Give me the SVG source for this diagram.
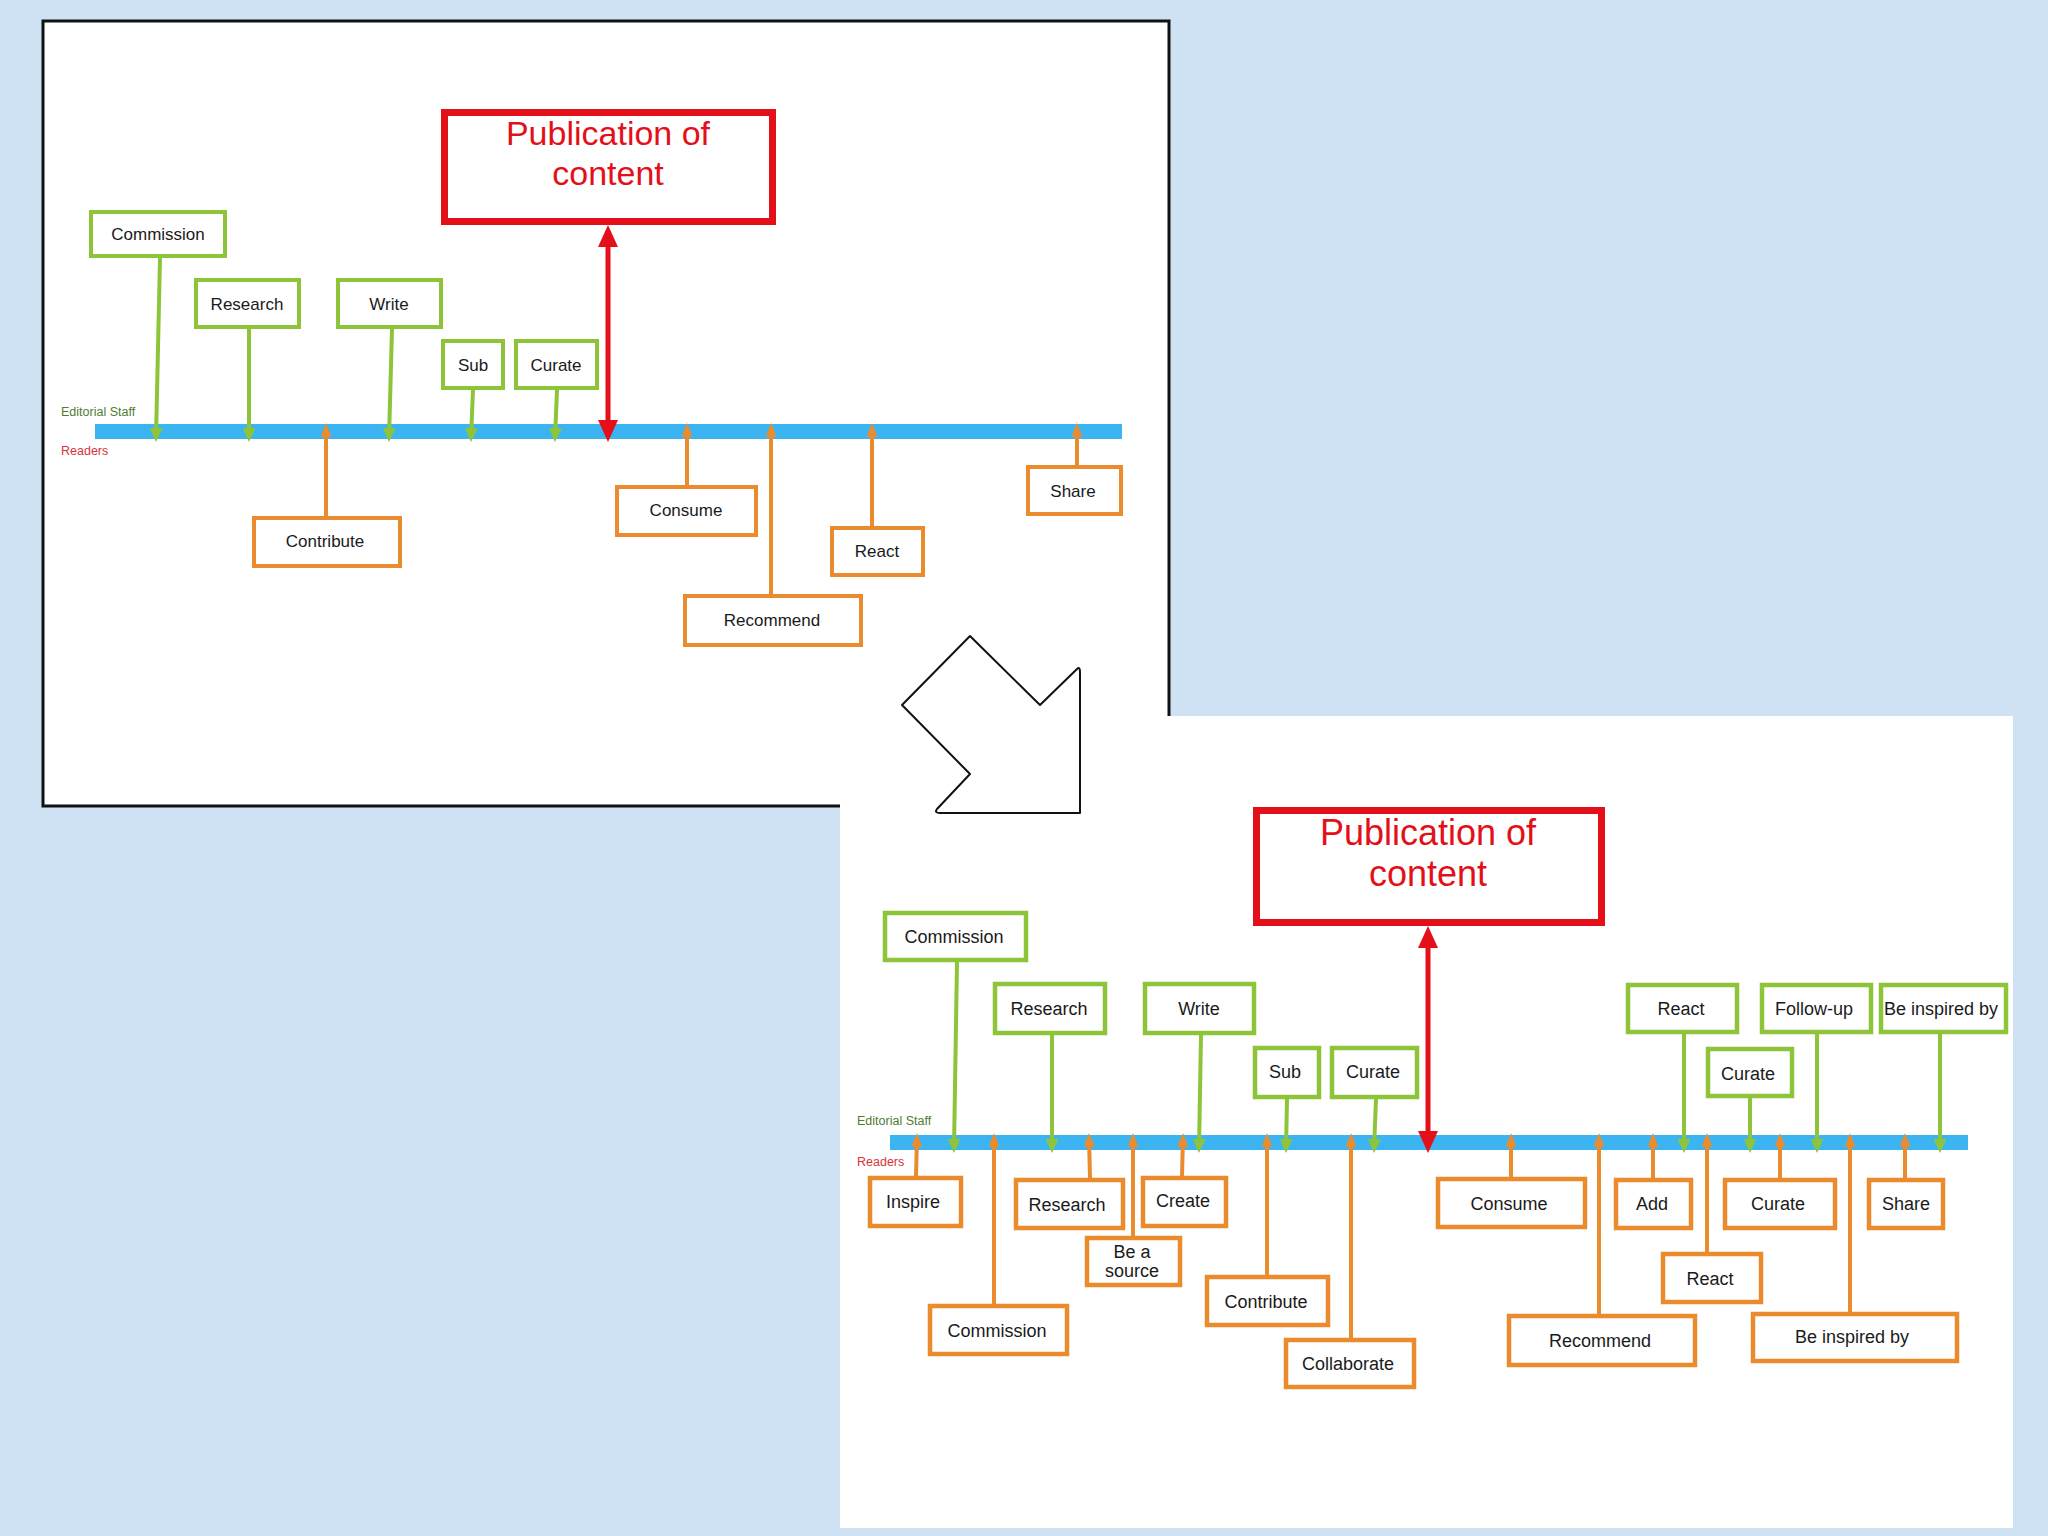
<svg xmlns="http://www.w3.org/2000/svg" width="2048" height="1536" viewBox="0 0 2048 1536">
<style>
.lbl{font-family:"Liberation Sans",Arial,sans-serif;fill:#1a1a1a;text-anchor:middle}
.t17{font-size:17px}
.t18{font-size:18px}
.gbox{fill:#fff;stroke:#8dc43a}
.obox{fill:#fff;stroke:#ea8b2d}
.pbox{fill:#fff;stroke:#e3101a;stroke-width:7}
.ptxt{font-family:"Liberation Sans",Arial,sans-serif;fill:#e3101a;text-anchor:middle}
.bar{fill:#3db4f2}
.gl{stroke:#8dc43a;stroke-width:4;fill:none;marker-end:url(#ag)}
.ol{stroke:#ea8b2d;stroke-width:4;fill:none;marker-end:url(#ao)}
.rl{stroke:#e3101a;stroke-width:5;fill:none;marker-end:url(#ar);marker-start:url(#ar)}
.ed{font-family:"Liberation Sans",Arial,sans-serif;font-size:12.5px;fill:#4e7d32}
.rd{font-family:"Liberation Sans",Arial,sans-serif;font-size:12.5px;fill:#d8323c}
</style>
<defs>
<marker id="ag" markerUnits="userSpaceOnUse" markerWidth="14" markerHeight="13" refX="10" refY="6.5" orient="auto"><path d="M0,0 L14,6.5 L0,13 z" fill="#8dc43a"/></marker>
<marker id="ao" markerUnits="userSpaceOnUse" markerWidth="14" markerHeight="11" refX="10" refY="5.5" orient="auto"><path d="M0,0 L14,5.5 L0,11 z" fill="#ea8b2d"/></marker>
<marker id="ar" markerUnits="userSpaceOnUse" markerWidth="22" markerHeight="20" refX="16" refY="10" orient="auto-start-reverse"><path d="M0,0 L22,10 L0,20 z" fill="#e3101a"/></marker>
</defs>
<rect x="0" y="0" width="2048" height="1536" fill="#cfe2f3"/>

<!-- Top panel -->
<g id="panel-top">
<rect x="43" y="21" width="1126" height="785" fill="#fff" stroke="#111" stroke-width="3"/>
<rect class="bar" x="95" y="424" width="1027" height="15"/>
<text class="ed" x="61" y="416">Editorial Staff</text>
<text class="rd" x="61" y="455">Readers</text>
</g>
<g id="top-connectors">
<path class="gl" d="M160,258 L156,438"/>
<path class="gl" d="M249,329 L249,438"/>
<path class="gl" d="M392,329 L389,438"/>
<path class="gl" d="M473,390 L471,438"/>
<path class="gl" d="M557,390 L555,438"/>
<path class="rl" d="M608,231 L608,436"/>
<path class="ol" d="M326,516 L326,427"/>
<path class="ol" d="M687,485 L687,427"/>
<path class="ol" d="M771,594 L771,427"/>
<path class="ol" d="M872,526 L872,427"/>
<path class="ol" d="M1077,465 L1077,427"/>
</g>
<g id="t-pub"><rect class="pbox" x="444.5" y="112.5" width="328" height="109"/><text class="ptxt" font-size="34" x="608" y="145">Publication of</text><text class="ptxt" font-size="34" x="608" y="185">content</text></g>
<g id="t-commission"><rect class="gbox" stroke-width="4" x="91" y="212" width="134" height="44"/><text class="lbl t17" x="158" y="240">Commission</text></g>
<g id="t-research"><rect class="gbox" stroke-width="4" x="196" y="280" width="103" height="47"/><text class="lbl t17" x="247" y="310">Research</text></g>
<g id="t-write"><rect class="gbox" stroke-width="4" x="338" y="280" width="103" height="47"/><text class="lbl t17" x="389" y="310">Write</text></g>
<g id="t-sub"><rect class="gbox" stroke-width="4" x="443" y="341" width="60" height="47"/><text class="lbl t17" x="473" y="371">Sub</text></g>
<g id="t-curate"><rect class="gbox" stroke-width="4" x="516" y="341" width="81" height="47"/><text class="lbl t17" x="556" y="371">Curate</text></g>
<g id="t-contribute"><rect class="obox" stroke-width="4" x="254" y="518" width="146" height="48"/><text class="lbl t17" x="325" y="547">Contribute</text></g>
<g id="t-consume"><rect class="obox" stroke-width="4" x="617" y="487" width="139" height="48"/><text class="lbl t17" x="686" y="516">Consume</text></g>
<g id="t-recommend"><rect class="obox" stroke-width="4" x="685" y="596" width="176" height="49"/><text class="lbl t17" x="772" y="626">Recommend</text></g>
<g id="t-react"><rect class="obox" stroke-width="4" x="832" y="528" width="91" height="47"/><text class="lbl t17" x="877" y="557">React</text></g>
<g id="t-share"><rect class="obox" stroke-width="4" x="1028" y="467" width="93" height="47"/><text class="lbl t17" x="1073" y="497">Share</text></g>

<!-- Bottom panel -->
<g id="panel-bottom">
<rect x="840" y="716" width="1173" height="812" fill="#fff"/>
<rect class="bar" x="890" y="1135" width="1078" height="15"/>
<text class="ed" x="857" y="1125">Editorial Staff</text>
<text class="rd" x="857" y="1166">Readers</text>
</g>
<g id="bottom-connectors">
<path class="gl" d="M957,962 L954,1149"/>
<path class="gl" d="M1052,1035 L1052,1149"/>
<path class="gl" d="M1201,1035 L1199,1149"/>
<path class="gl" d="M1287,1099 L1286,1149"/>
<path class="gl" d="M1376,1099 L1374,1149"/>
<path class="gl" d="M1684,1034 L1684,1149"/>
<path class="gl" d="M1750,1098 L1750,1149"/>
<path class="gl" d="M1817,1034 L1817,1149"/>
<path class="gl" d="M1940,1034 L1940,1149"/>
<path class="rl" d="M1428,932 L1428,1147"/>
<path class="ol" d="M916,1176 L917,1137"/>
<path class="ol" d="M994,1304 L994,1137"/>
<path class="ol" d="M1090,1178 L1089,1137"/>
<path class="ol" d="M1133,1236 L1133,1137"/>
<path class="ol" d="M1182,1176 L1183,1137"/>
<path class="ol" d="M1267,1275 L1267,1137"/>
<path class="ol" d="M1351,1338 L1351,1137"/>
<path class="ol" d="M1511,1177 L1511,1137"/>
<path class="ol" d="M1599,1314 L1599,1137"/>
<path class="ol" d="M1653,1178 L1653,1137"/>
<path class="ol" d="M1707,1252 L1707,1137"/>
<path class="ol" d="M1780,1178 L1780,1137"/>
<path class="ol" d="M1850,1312 L1850,1137"/>
<path class="ol" d="M1905,1178 L1905,1137"/>
</g>
<g id="b-pub"><rect class="pbox" x="1256.5" y="810.5" width="345" height="112"/><text class="ptxt" font-size="36" x="1428" y="845">Publication of</text><text class="ptxt" font-size="36" x="1428" y="886">content</text></g>
<g id="b-commission-g"><rect class="gbox" stroke-width="4.5" x="885" y="913" width="141" height="47"/><text class="lbl t18" x="954" y="943">Commission</text></g>
<g id="b-research-g"><rect class="gbox" stroke-width="4.5" x="995" y="984" width="110" height="49"/><text class="lbl t18" x="1049" y="1015">Research</text></g>
<g id="b-write-g"><rect class="gbox" stroke-width="4.5" x="1145" y="984" width="109" height="49"/><text class="lbl t18" x="1199" y="1015">Write</text></g>
<g id="b-sub-g"><rect class="gbox" stroke-width="4.5" x="1255" y="1048" width="64" height="49"/><text class="lbl t18" x="1285" y="1078">Sub</text></g>
<g id="b-curate-g"><rect class="gbox" stroke-width="4.5" x="1332" y="1048" width="85" height="49"/><text class="lbl t18" x="1373" y="1078">Curate</text></g>
<g id="b-react-g"><rect class="gbox" stroke-width="4.5" x="1628" y="985" width="109" height="47"/><text class="lbl t18" x="1681" y="1015">React</text></g>
<g id="b-followup-g"><rect class="gbox" stroke-width="4.5" x="1762" y="985" width="109" height="47"/><text class="lbl t18" x="1814" y="1015">Follow-up</text></g>
<g id="b-inspiredby-g"><rect class="gbox" stroke-width="4.5" x="1881" y="985" width="125" height="47"/><text class="lbl t18" x="1941" y="1015">Be inspired by</text></g>
<g id="b-curate2-g"><rect class="gbox" stroke-width="4.5" x="1708" y="1049" width="84" height="47"/><text class="lbl t18" x="1748" y="1080">Curate</text></g>
<g id="b-inspire-o"><rect class="obox" stroke-width="4.5" x="870" y="1178" width="91" height="48"/><text class="lbl t18" x="913" y="1208">Inspire</text></g>
<g id="b-commission-o"><rect class="obox" stroke-width="4.5" x="930" y="1306" width="137" height="48"/><text class="lbl t18" x="997" y="1337">Commission</text></g>
<g id="b-research-o"><rect class="obox" stroke-width="4.5" x="1016" y="1180" width="107" height="48"/><text class="lbl t18" x="1067" y="1211">Research</text></g>
<g id="b-source-o"><rect class="obox" stroke-width="4.5" x="1087" y="1238" width="93" height="47"/><text class="lbl t18" x="1132" y="1258">Be a</text><text class="lbl t18" x="1132" y="1277">source</text></g>
<g id="b-create-o"><rect class="obox" stroke-width="4.5" x="1143" y="1178" width="83" height="48"/><text class="lbl t18" x="1183" y="1207">Create</text></g>
<g id="b-contribute-o"><rect class="obox" stroke-width="4.5" x="1207" y="1277" width="121" height="48"/><text class="lbl t18" x="1266" y="1308">Contribute</text></g>
<g id="b-collaborate-o"><rect class="obox" stroke-width="4.5" x="1286" y="1340" width="128" height="47"/><text class="lbl t18" x="1348" y="1370">Collaborate</text></g>
<g id="b-consume-o"><rect class="obox" stroke-width="4.5" x="1438" y="1179" width="147" height="48"/><text class="lbl t18" x="1509" y="1210">Consume</text></g>
<g id="b-recommend-o"><rect class="obox" stroke-width="4.5" x="1509" y="1316" width="186" height="49"/><text class="lbl t18" x="1600" y="1347">Recommend</text></g>
<g id="b-add-o"><rect class="obox" stroke-width="4.5" x="1616" y="1180" width="75" height="48"/><text class="lbl t18" x="1652" y="1210">Add</text></g>
<g id="b-curate-o"><rect class="obox" stroke-width="4.5" x="1725" y="1180" width="110" height="48"/><text class="lbl t18" x="1778" y="1210">Curate</text></g>
<g id="b-share-o"><rect class="obox" stroke-width="4.5" x="1869" y="1180" width="74" height="48"/><text class="lbl t18" x="1906" y="1210">Share</text></g>
<g id="b-react-o"><rect class="obox" stroke-width="4.5" x="1663" y="1254" width="98" height="48"/><text class="lbl t18" x="1710" y="1285">React</text></g>
<g id="b-inspiredby-o"><rect class="obox" stroke-width="4.5" x="1753" y="1314" width="204" height="47"/><text class="lbl t18" x="1852" y="1343">Be inspired by</text></g>

<!-- Block arrow -->
<g id="block-arrow">
<path d="M970,636 L1040,705 L1077,669 Q1080,666 1080,672 L1080,813 L940,813 Q934,813 937,809 L970,774 L902,705 Z" fill="#fff" stroke="#111" stroke-width="2" stroke-linejoin="round"/>
</g>
</svg>
